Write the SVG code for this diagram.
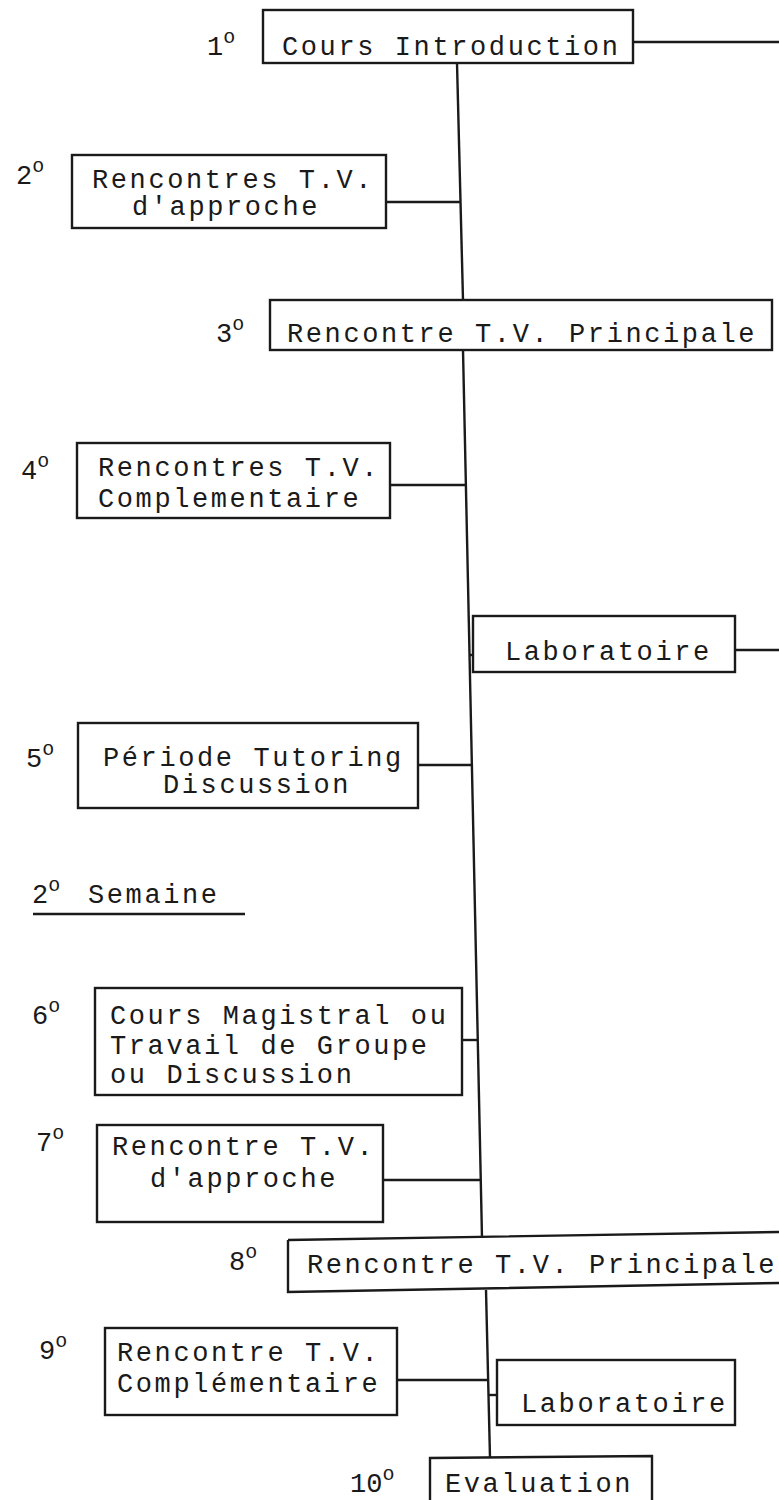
<svg xmlns="http://www.w3.org/2000/svg" width="779" height="1500" viewBox="0 0 779 1500">
<style>
.bg{fill:#ffffff}
.box{fill:none;stroke:#1a1a1a;stroke-width:2.4}
.ln{fill:none;stroke:#1a1a1a;stroke-width:2.4}
.t{font-family:"Liberation Mono","DejaVu Sans Mono",monospace;font-size:27px;letter-spacing:2.6px;fill:#1a1a1a}
.n{font-family:"Liberation Mono","DejaVu Sans Mono",monospace;font-size:27px;fill:#1a1a1a}
.sup{font-size:20px}
</style>
<rect class="bg" x="0" y="0" width="779" height="1500"/>
<g id="connectors">
<polyline class="ln" points="457,63 463,300"/>
<polyline class="ln" points="463,350 482,1238"/>
<polyline class="ln" points="486,1290 490,1458"/>
<line class="ln" x1="633" y1="42" x2="779" y2="42"/>
<line class="ln" x1="386" y1="202" x2="460" y2="202"/>
<line class="ln" x1="390" y1="485" x2="466" y2="485"/>
<line class="ln" x1="469" y1="655" x2="474" y2="655"/>
<line class="ln" x1="735" y1="650" x2="779" y2="650"/>
<line class="ln" x1="418" y1="765" x2="472" y2="765"/>
<line class="ln" x1="462" y1="1040" x2="478" y2="1040"/>
<line class="ln" x1="383" y1="1180" x2="481" y2="1180"/>
<line class="ln" x1="397" y1="1380" x2="488" y2="1380"/>
<line class="ln" x1="488" y1="1395" x2="497" y2="1395"/>
</g>
<g id="n1">
<rect class="box" x="263" y="10" width="370" height="53"/>
<text class="n" x="207" y="55">1<tspan class="sup" dy="-12">o</tspan></text>
<text class="t" x="282" y="55">Cours Introduction</text>
</g>
<g id="n2">
<rect class="box" x="72" y="155" width="314" height="73"/>
<text class="n" x="16" y="184">2<tspan class="sup" dy="-12">o</tspan></text>
<text class="t" x="92" y="188">Rencontres T.V.</text>
<text class="t" x="132" y="215">d'approche</text>
</g>
<g id="n3">
<rect class="box" x="270" y="300" width="502" height="50"/>
<text class="n" x="216" y="342">3<tspan class="sup" dy="-12">o</tspan></text>
<text class="t" x="287" y="342">Rencontre T.V. Principale</text>
</g>
<g id="n4">
<rect class="box" x="77" y="443" width="313" height="75"/>
<text class="n" x="21" y="479">4<tspan class="sup" dy="-12">o</tspan></text>
<text class="t" x="98" y="476">Rencontres T.V.</text>
<text class="t" x="98" y="507">Complementaire</text>
</g>
<g id="n5">
<rect class="box" x="473" y="616" width="262" height="56"/>
<text class="t" x="505" y="660">Laboratoire</text>
</g>
<g id="n6">
<rect class="box" x="78" y="723" width="340" height="85"/>
<text class="n" x="26" y="767">5<tspan class="sup" dy="-12">o</tspan></text>
<text class="t" x="103" y="766">Période Tutoring</text>
<text class="t" x="163" y="793">Discussion</text>
</g>
<g id="heading">
<text class="n" x="32" y="903">2<tspan class="sup" dy="-12">o</tspan></text>
<text class="t" x="88" y="903">Semaine</text>
<line class="ln" x1="33" y1="914" x2="245" y2="914"/>
</g>
<g id="n7">
<rect class="box" x="95" y="988" width="367" height="107"/>
<text class="n" x="32" y="1024">6<tspan class="sup" dy="-12">o</tspan></text>
<text class="t" x="110" y="1024">Cours Magistral ou</text>
<text class="t" x="110" y="1054">Travail de Groupe</text>
<text class="t" x="110" y="1083">ou Discussion</text>
</g>
<g id="n8">
<rect class="box" x="97" y="1125" width="286" height="97"/>
<text class="n" x="36" y="1151">7<tspan class="sup" dy="-12">o</tspan></text>
<text class="t" x="112" y="1155">Rencontre T.V.</text>
<text class="t" x="150" y="1187">d'approche</text>
</g>
<g id="n9">
<path class="box" d="M288,1240 L779,1232 M288,1240 L288,1292 L779,1283"/>
<text class="n" x="229" y="1270">8<tspan class="sup" dy="-12">o</tspan></text>
<text class="t" x="307" y="1273">Rencontre T.V. Principale</text>
</g>
<g id="n10">
<rect class="box" x="105" y="1328" width="292" height="87"/>
<text class="n" x="39" y="1359">9<tspan class="sup" dy="-12">o</tspan></text>
<text class="t" x="117" y="1361">Rencontre T.V.</text>
<text class="t" x="117" y="1392">Complémentaire</text>
</g>
<g id="n11">
<rect class="box" x="497" y="1360" width="238" height="65"/>
<text class="t" x="521" y="1412">Laboratoire</text>
</g>
<g id="n12">
<path class="box" d="M430,1500 L430,1458 L652,1456 L652,1500"/>
<text class="n" x="350" y="1492">10<tspan class="sup" dy="-12">o</tspan></text>
<text class="t" x="445" y="1492">Evaluation</text>
</g>
</svg>
